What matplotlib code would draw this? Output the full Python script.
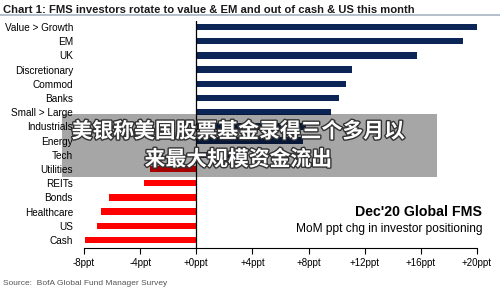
import matplotlib.pyplot as plt
from matplotlib.patches import Rectangle
import matplotlib.patheffects as pe

categories = ['Value > Growth', 'EM', 'UK', 'Discretionary', 'Commod', 'Banks',
              'Small > Large', 'Industrials', 'Energy', 'Tech', 'Utilities',
              'REITs', 'Bonds', 'Healthcare', 'US', 'Cash']
values = [20.1, 19.0, 15.7, 11.1, 10.7, 10.2, 9.6, 7.8, 7.6, 3.0,
          -3.3, -3.7, -6.2, -6.8, -7.1, -7.9]
xticks = [-8, -4, 0, 4, 8, 12, 16, 20]
xticklabels = ['-8ppt', '-4ppt', '+0ppt', '+4ppt', '+8ppt', '+12ppt', '+16ppt', '+20ppt']

title = 'Chart 1: FMS investors rotate to value & EM and out of cash & US this month'
source = 'Source:  BofA Global Fund Manager Survey'
overlay = ['美银称美国股票基金录得三个多月以', '来最大规模资金流出']

fig = plt.figure(figsize=(5, 2.92), dpi=100)
ax = fig.add_axes([0.168, 0.151, 0.786, 0.777])

colors = ['#0c2557' if v > 0 else '#ff0000' for v in values]
ax.barh(range(len(categories)), values, height=0.45, color=colors, zorder=2)

ax.set_xlim(-8, 20)
ax.set_ylim(15.56, -0.42)
ax.axvline(0, color='black', lw=0.9, zorder=3)

for s in ['top', 'right', 'left']:
    ax.spines[s].set_visible(False)
ax.spines['bottom'].set_linewidth(0.8)

ax.set_yticks(range(len(categories)))
ax.set_yticklabels(categories, fontsize=7.2, family='Liberation Sans')
ax.tick_params(axis='y', length=0, pad=8)
ax.set_xticks(xticks)
ax.set_xticklabels(xticklabels, fontsize=7, family='Liberation Sans')
ax.tick_params(axis='x', direction='out', length=4, width=0.8, pad=3)

fig.text(0.006, 0.982, title, fontsize=8.1, fontweight='bold', va='top', ha='left',
         family='Liberation Sans', color='#1a1a1a')
fig.add_artist(plt.Line2D([0, 1], [0.948, 0.948], color='#a8b4c2', lw=1.2))

fig.text(0.964, 0.274, "Dec'20 Global FMS", ha='right', va='center',
         fontsize=10.2, fontweight='bold', family='Liberation Sans')
fig.text(0.964, 0.216, 'MoM ppt chg in investor positioning', ha='right', va='center',
         fontsize=8.6, family='Liberation Sans')

fig.text(0.006, 0.03, source, fontsize=6, color='#555555', ha='left', va='center',
         family='Liberation Sans')

fig.add_artist(Rectangle((0.124, 0.394), 0.75, 0.216, transform=fig.transFigure,
                         facecolor='black', alpha=0.35, edgecolor='none', zorder=5))
for i, line in enumerate(overlay):
    fig.text(0.477, 0.551 - i * 0.096, line, ha='center', va='center', fontsize=15,
             fontweight='bold', color='white', zorder=6,
             family=['Noto Sans CJK SC', 'DejaVu Sans'],
             path_effects=[pe.withStroke(linewidth=2, foreground='#333333')])

fig.savefig('out.png', dpi=100)
